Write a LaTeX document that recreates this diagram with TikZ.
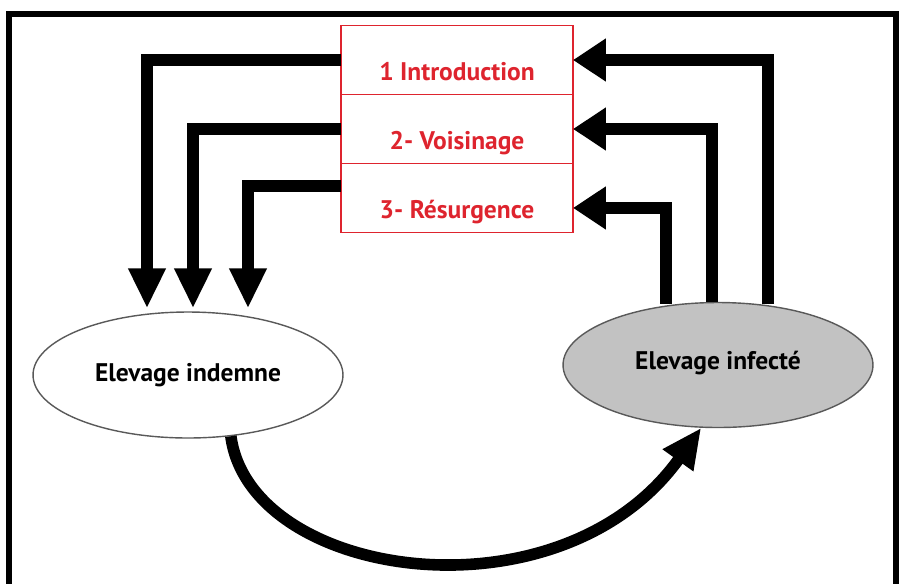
\documentclass[tikz,border=0pt]{standalone}
\usepackage{fontspec}
\setmainfont{PT Sans}
\usepackage{tikz}
\usetikzlibrary{positioning,shapes.geometric,arrows.meta,calc}
\definecolor{rouge}{RGB}{222,36,46}
\definecolor{gristroupeau}{RGB}{194,194,194}
\newcommand{\etape}[1]{\textcolor{rouge}{#1}}
\tikzset{
  rowbox/.style={draw=rouge,line width=0.9pt,minimum width=4.64cm,minimum height=1.38cm,
    outer sep=0pt,inner sep=0pt,text height=23pt,text depth=0pt,
    font=\bfseries\fontsize{14.5}{16}\selectfont},
  troupeau/.style={ellipse,draw=black!65,line width=0.8pt,minimum width=6.2cm,minimum height=2.52cm,
    font=\bfseries\fontsize{14.5}{16}\selectfont},
  flux/.style={line width=6.6pt,line join=miter,-{Triangle[length=0.8cm,width=0.7cm]}},
  retour/.style={line width=6.6pt,line join=miter,-{Triangle[length=0.66cm,width=0.82cm]}},
  cadre/.style={line width=3.4pt,line join=miter}
}

\begin{document}
\begin{tikzpicture}[x=0.02cm,y=-0.02cm]
  \useasboundingbox (0,0) rectangle (899,583);
  \draw[cadre] (9,600) -- (9,14) -- (896,14) -- (896,600);

  \node[rowbox] (intro) at (457,60) {\etape{1 Introduction}};
  \node[rowbox,below=0pt of intro] (voisin) {\etape{2- Voisinage}};
  \node[rowbox,below=0pt of voisin] (resurg) {\etape{3- Résurgence}};

  \node[troupeau] (indemne) at (188,375) {Elevage indemne};
  \node[troupeau,fill=gristroupeau,minimum height=2.5cm] (infecte) at (718,365) {\raisebox{5pt}{Elevage infecté}};

  % entrees dans l'elevage indemne
  \coordinate (d1) at ($(indemne.north)+(-41,-3)$);
  \coordinate (d2) at ($(indemne.north)+(5,-3)$);
  \coordinate (d3) at ($(indemne.north)+(60,-3)$);
  \draw[flux] (intro.west) -| (d1);
  \draw[flux] (voisin.west) -| (d2);
  \draw[flux] ($(resurg.west)+(0,-12)$) -| (d3);

  % sorties de l'elevage infecte
  \coordinate (u1) at ($(infecte.north)+(50,2)$);
  \coordinate (u2) at ($(infecte.north)+(-6,0)$);
  \coordinate (u3) at ($(infecte.north)+(-52,2)$);
  \draw[retour] (u1) |- (intro.east);
  \draw[retour] (u2) |- (voisin.east);
  \draw[retour] (u3) |- ($(resurg.east)+(0,10)$);

  \draw[flux] (indemne.-55) .. controls (250,580) and (560,625) .. (infecte.-105);
\end{tikzpicture}
\end{document}
